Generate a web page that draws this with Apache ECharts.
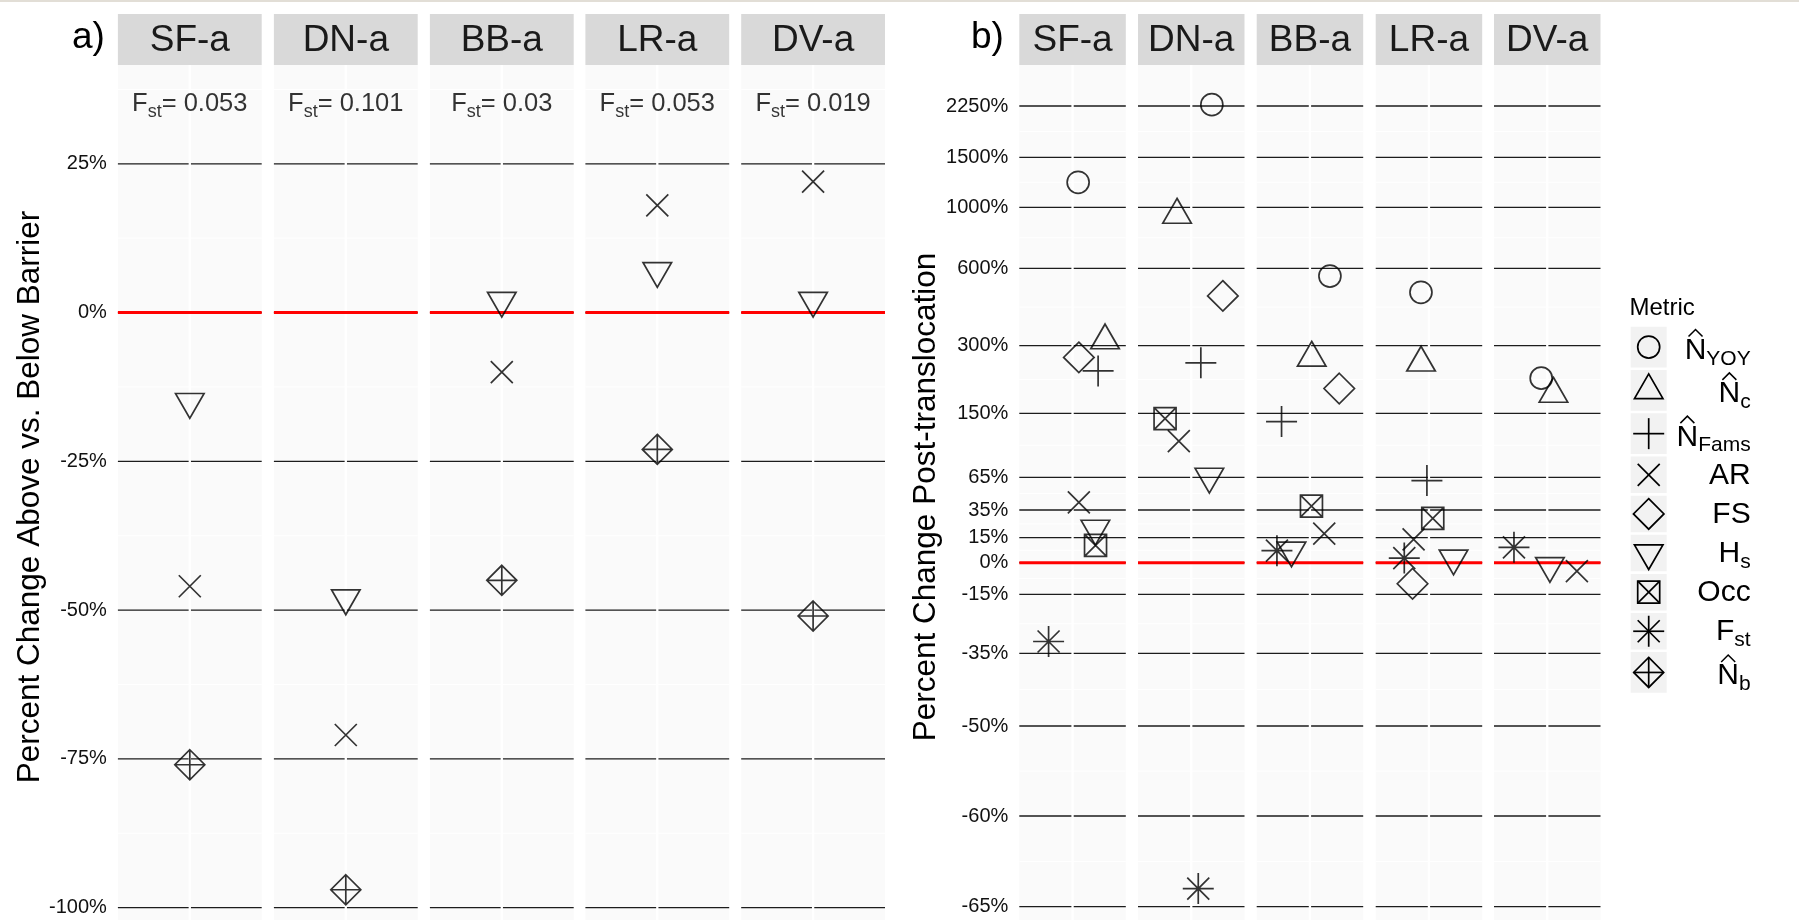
<!DOCTYPE html>
<html><head><meta charset="utf-8">
<script src="https://cdn.jsdelivr.net/npm/echarts@6/dist/echarts.min.js"></script>
<style>html,body{margin:0;padding:0;background:#fff}#c{width:1799px;height:920px}</style>
</head><body><div id="c"></div>
<script>
// ---------------- data ----------------
const sites = ['SF-a', 'DN-a', 'BB-a', 'LR-a', 'DV-a'];
const fstLabels = ['0.053', '0.101', '0.03', '0.053', '0.019'];

// panel a: percent change above vs. below barrier
const aTicks = [-100, -75, -50, -25, 0, 25];
const aMinor = [-87.5, -62.5, -37.5, -12.5, 12.5, 37.5];
const aAR = [-46, -71, -10, 18, 22];
const aHs = [-15, -48, 2, 7, 2];
const aNb = [-76, -97, -45, -23, -51];

// panel b: percent change post-translocation (non-linear axis)
const bTickLabels = [2250, 1500, 1000, 600, 300, 150, 65, 35, 15, 0, -15, -35, -50, -60, -65];
const bScalePos = [456.7, 405.4, 355.4, 294.4, 217, 149.4, 85.4, 52.7, 25, 0, -31.6, -90.6, -163.3, -253.3, -344];
const bNYOY = [1250, 2270, 570, 507, 228];
const bNc = [320, 950, 273, 262, 193];
const bNFams = [244, 262, 139, 62, null];
const bAR = [42, 113, 18, 14, -4];
const bFS = [274, 493, 205, -10, null];
const bHs = [21.6, 66, 7.4, 2.6, -1.5];
const bOcc = [10.4, 143, 38.5, 29, null];
const bFst = [-31, -64, 7.2, 2.8, 9.2];
// horizontal jitter of each point in panel b
const jNYOY = [0.063, 0.232, 0.225, -0.09, -0.068];
const jNc = [0.366, -0.16, 0.02, -0.089, 0.07];
const jNFams = [0.288, 0.108, -0.32, -0.023, null];
const jAR = [0.071, -0.14, 0.161, -0.173, 0.334];
const jFS = [0.071, 0.356, 0.33, -0.185, null];
const jHs = [0.257, 0.204, -0.208, 0.277, 0.03];
const jOcc = [0.259, -0.295, 0.017, 0.043, null];
const jFst = [-0.27, 0.079, -0.372, -0.278, -0.375];

// metrics (legend order)
const metricKeys = ['NYOY', 'Nc', 'NFams', 'AR', 'FS', 'Hs', 'Occ', 'Fst', 'Nb'];
const metricMain = ['N', 'N', 'N', 'AR', 'FS', 'H', 'Occ', 'F', 'N'];
const metricSub = ['YOY', 'c', 'Fams', '', '', 's', '', 'st', 'b'];
const metricHat = [1, 1, 1, 0, 0, 0, 0, 0, 1];

// ---------------- styles ----------------
const FONT = "'Liberation Sans', Arial, Helvetica, sans-serif";
const SW = 1.7; // marker stroke
const SYM = {
  NYOY: {symbol: 'circle', size: [22, 22], off: [0, 0]},
  Nc: {symbol: 'path://M15,0L30,26L0,26Z', size: [28.5, 24.7], off: [0, -4.1]},
  NFams: {symbol: 'path://M0,15L30,15M15,0L15,30', size: [31, 31], off: [0, 0]},
  AR: {symbol: 'path://M0,0L30,30M30,0L0,30', size: [22, 22], off: [0, 0]},
  FS: {symbol: 'path://M15,0L30,15L15,30L0,15Z', size: [30.5, 30.5], off: [0, 0]},
  Hs: {symbol: 'path://M0,0L30,0L15,26Z', size: [28.5, 24.7], off: [0, 4.1]},
  Occ: {symbol: 'path://M0,0L30,0L30,30L0,30ZM0,0L30,30M30,0L0,30', size: [22, 22], off: [0, 0]},
  Fst: {symbol: 'path://M0,15L30,15M15,0L15,30M4.35,4.35L25.65,25.65M25.65,4.35L4.35,25.65', size: [31, 31], off: [0, 0]},
  Nb: {symbol: 'path://M15,0L30,15L15,30L0,15ZM0,15L30,15M15,0L15,30', size: [30, 30], off: [0, 0]}
};
const aData = {AR: aAR, Hs: aHs, Nb: aNb};
const bData = {NYOY: bNYOY, Nc: bNc, NFams: bNFams, AR: bAR, FS: bFS, Hs: bHs, Occ: bOcc, Fst: bFst};
const bJit = {NYOY: jNYOY, Nc: jNc, NFams: jNFams, AR: jAR, FS: jFS, Hs: jHs, Occ: jOcc, Fst: jFst};

// piecewise-linear transform of the panel-b axis
const bAsc = bTickLabels.map((v, i) => [v, bScalePos[i]]).sort((p, q) => p[0] - q[0]);
function bT(v) {
  const n = bAsc.length;
  let i = 0;
  if (v <= bAsc[0][0]) i = 0;
  else if (v >= bAsc[n - 1][0]) i = n - 2;
  else { while (!(v >= bAsc[i][0] && v <= bAsc[i + 1][0])) i++; }
  const a = bAsc[i], b = bAsc[i + 1];
  return a[1] + (v - a[0]) * (b[1] - a[1]) / (b[0] - a[0]);
}
const bMinor = [];
for (let i = 0; i < bScalePos.length - 1; i++) bMinor.push((bScalePos[i] + bScalePos[i + 1]) / 2);

// ---------------- layout ----------------
const TOP = 65, H = 864;
const aLeft = [117.9, 273.9, 429.9, 585.4, 741.2], aW = 143.8;
const bLeft = [1019.3, 1138, 1256.7, 1375.7, 1494], bW = 106.5;
const aMin = -103.6, aMax = 41.6;
const bMin = -366.3, bMax = 497.7;

const grids = [], xAxes = [], yAxes = [], series = [], elements = [];
const markStyle = {color: 'rgba(0,0,0,0)', borderColor: '#000', borderWidth: SW};

function hLines(vals) {
  const d = [];
  vals.forEach(v => { d.push([0.4, v], [1.6, v], [1, '-']); });
  return d;
}
function lineSeries(g, data, color, width, z) {
  return {type: 'line', xAxisIndex: g, yAxisIndex: g, data, showSymbol: false, symbol: 'none',
    connectNulls: false, silent: true, animation: false, z,
    lineStyle: {color, width, type: 'solid'}};
}

function addPanel(g, left, width, yMin, yMax, majors, minors, zeroVal, axisCfg) {
  grids.push({left, top: TOP, width, height: H, show: true, backgroundColor: '#fafafa',
    borderWidth: 0, outerBoundsMode: 'none'});
  xAxes.push({gridIndex: g, type: 'value', min: 0.4, max: 1.6, show: false});
  const y = Object.assign({gridIndex: g, type: 'value', min: yMin, max: yMax,
    axisLine: {show: false}, axisTick: {show: false}, splitLine: {show: false}}, axisCfg);
  yAxes.push(y);
  series.push(lineSeries(g, hLines(minors), '#ffffff', 1, 1));
  series.push(lineSeries(g, hLines(majors), '#1c1c1c', 1.3, 2));
  series.push(lineSeries(g, [[1, yMin], [1, yMax]], '#ffffff', 2.3, 3));
  series.push(lineSeries(g, hLines([zeroVal]), '#ff0000', 3, 4));
}

function strip(left, width, text) {
  elements.push({type: 'rect', shape: {x: left, y: 14, width, height: 51}, style: {fill: '#d9d9d9'}});
  elements.push({type: 'text', x: left + width / 2, y: 40.5, style: {text, font: '37px ' + FONT,
    fill: '#1a1a1a', align: 'center', verticalAlign: 'middle', textAlign: 'center', textVerticalAlign: 'middle'}});
}

const labelFont = {fontFamily: FONT, fontSize: 20, color: '#111', margin: 11, hideOverlap: false};
const titleStyle = {fontFamily: FONT, fontSize: 31.5, color: '#000'};

// panel a
sites.forEach((s, i) => {
  const g = i;
  const cfg = i === 0 ? {
    name: 'Percent Change Above vs. Below Barrier', nameLocation: 'middle', nameGap: 72, nameRotate: 90,
    nameMoveOverlap: false, nameTextStyle: titleStyle,
    axisLabel: Object.assign({show: true, customValues: aTicks, formatter: v => v + '%'}, labelFont)
  } : {axisLabel: {show: false}};
  addPanel(g, aLeft[i], aW, aMin, aMax, aTicks, aMinor, 0, cfg);
  strip(aLeft[i], aW, s);
  // F_st annotation
  series.push({type: 'scatter', xAxisIndex: g, yAxisIndex: g, data: [[1, 35]], symbolSize: 0, silent: true, z: 5,
    label: {show: true, position: 'inside', fontFamily: FONT, color: '#000',
      formatter: () => '{f|F}{s|st}{f|= ' + fstLabels[i] + '}',
      rich: {
        f: {fontFamily: FONT, fontSize: 25.5, color: '#000', lineHeight: 30},
        s: {fontFamily: FONT, fontSize: 18, color: '#000', lineHeight: 30, verticalAlign: 'bottom', height: 14}
      }}});
  metricKeys.forEach((k, m) => {
    if (!aData[k]) return;
    const v = aData[k][i];
    if (v === null || v === undefined) return;
    series.push({type: 'scatter', name: k, xAxisIndex: g, yAxisIndex: g, data: [[1, v]], z: 6, silent: true,
      symbol: SYM[k].symbol, symbolSize: SYM[k].size, symbolOffset: SYM[k].off, itemStyle: markStyle});
  });
});

// panel b
sites.forEach((s, i) => {
  const g = 5 + i;
  const cfg = i === 0 ? {
    name: 'Percent Change Post-translocation', nameLocation: 'middle', nameGap: 77, nameRotate: 90,
    nameMoveOverlap: false, nameTextStyle: titleStyle,
    axisLabel: Object.assign({show: true, customValues: bScalePos.slice(), formatter: v => {
      let best = 0;
      bScalePos.forEach((p, j) => { if (Math.abs(p - v) < Math.abs(bScalePos[best] - v)) best = j; });
      return bTickLabels[best] + '%';
    }}, labelFont)
  } : {axisLabel: {show: false}};
  addPanel(g, bLeft[i], bW, bMin, bMax, bScalePos, bMinor, bT(0), cfg);
  strip(bLeft[i], bW, s);
  metricKeys.forEach((k, m) => {
    if (!bData[k]) return;
    const v = bData[k][i];
    if (v === null || v === undefined) return;
    series.push({type: 'scatter', name: k, xAxisIndex: g, yAxisIndex: g, data: [[1 + bJit[k][i], bT(v)]], z: 6, silent: true,
      symbol: SYM[k].symbol, symbolSize: SYM[k].size, symbolOffset: SYM[k].off, itemStyle: markStyle});
  });
});

// panel tags and thin top band
elements.push({type: 'rect', shape: {x: 0, y: 0, width: 1799, height: 2}, style: {fill: '#e2ded6'}});
elements.push({type: 'text', x: 72, y: 37.5, style: {text: 'a)', font: '37px ' + FONT, fill: '#000',
  align: 'left', verticalAlign: 'middle', textAlign: 'left', textVerticalAlign: 'middle'}});
elements.push({type: 'text', x: 971, y: 37.5, style: {text: 'b)', font: '37px ' + FONT, fill: '#000',
  align: 'left', verticalAlign: 'middle', textAlign: 'left', textVerticalAlign: 'middle'}});

// ---------------- legend ----------------
const mctx = document.createElement('canvas').getContext('2d');
function tw(t, size) { mctx.font = size + "px 'Liberation Sans'"; return mctx.measureText(t).width; }
// convert a simple M/L/Z symbol path into polygon / polyline graphic elements fitted in a box
function symbolElements(pathStr, x, y, w, h, style) {
  const subs = [];
  let cur = null;
  const re = /([MLZ])([^MLZ]*)/g;
  let m;
  while ((m = re.exec(pathStr)) !== null) {
    const cmd = m[1];
    const nums = m[2].split(/[ ,]+/).filter(t => t !== '').map(Number);
    if (cmd === 'M') { cur = {pts: [[nums[0], nums[1]]], closed: false}; subs.push(cur); }
    else if (cmd === 'L') { cur.pts.push([nums[0], nums[1]]); }
    else if (cmd === 'Z') { cur.closed = true; }
  }
  let x0 = Infinity, y0 = Infinity, x1 = -Infinity, y1 = -Infinity;
  subs.forEach(s => s.pts.forEach(p => { x0 = Math.min(x0, p[0]); x1 = Math.max(x1, p[0]); y0 = Math.min(y0, p[1]); y1 = Math.max(y1, p[1]); }));
  return subs.map(s => ({
    type: s.closed ? 'polygon' : 'polyline',
    shape: {points: s.pts.map(p => [x + (p[0] - x0) / (x1 - x0) * w, y + (p[1] - y0) / (y1 - y0) * h])},
    style: Object.assign({}, style)
  }));
}
elements.push({type: 'text', x: 1629.5, y: 308.4, style: {text: 'Metric', font: '24px ' + FONT, fill: '#000',
  align: 'left', verticalAlign: 'middle', textAlign: 'left', textVerticalAlign: 'middle'}});
const LX = 1630.7, LW = 36, LR = 1750.7, MAINF = 30, SUBF = 21;
let yTop = 326.7;
metricKeys.forEach((k, i) => {
  const hat = metricHat[i];
  const h = hat ? 40.7 : 36.5;
  const cy = yTop + h / 2;
  elements.push({type: 'rect', shape: {x: LX, y: yTop, width: LW, height: h}, style: {fill: '#f2f2f2'}});
  const s = SYM[k];
  const sx = LX + LW / 2, sy = cy + s.off[1];
  const st = {fill: 'none', stroke: '#000', lineWidth: SW};
  if (s.symbol === 'circle') {
    elements.push({type: 'circle', shape: {cx: sx, cy: sy, r: s.size[0] / 2}, style: st});
  } else {
    symbolElements(s.symbol.slice(7), sx - s.size[0] / 2, sy - s.size[1] / 2, s.size[0], s.size[1], st)
      .forEach(e => elements.push(e));
  }
  const base = cy + (hat ? 14 : 11);
  const wMain = tw(metricMain[i], MAINF), wSub = metricSub[i] ? tw(metricSub[i], SUBF) : 0;
  const left = LR - wMain - wSub;
  elements.push({type: 'text', x: left, y: base - 0.3465 * MAINF, style: {text: metricMain[i], font: MAINF + 'px ' + FONT,
    fill: '#000', align: 'left', verticalAlign: 'middle', textAlign: 'left', textVerticalAlign: 'middle'}});
  if (metricSub[i]) {
    elements.push({type: 'text', x: left + wMain, y: base + 5 - 0.3465 * SUBF, style: {text: metricSub[i], font: SUBF + 'px ' + FONT,
      fill: '#000', align: 'left', verticalAlign: 'middle', textAlign: 'left', textVerticalAlign: 'middle'}});
  }
  if (hat) {
    const cx = left + wMain / 2, capTop = base - 21.5;
    elements.push({type: 'polyline', shape: {points: [[cx - 7, capTop - 3], [cx, capTop - 10], [cx + 7, capTop - 3]]},
      style: {fill: 'none', stroke: '#000', lineWidth: 1.5}});
  }
  yTop += h + 2.6;
});

const chart = echarts.init(document.getElementById('c'), null, {renderer: 'canvas'});
chart.setOption({
  animation: false,
  backgroundColor: '#ffffff',
  grid: grids, xAxis: xAxes, yAxis: yAxes, series,
  graphic: {elements}
});
</script>
</body></html>
